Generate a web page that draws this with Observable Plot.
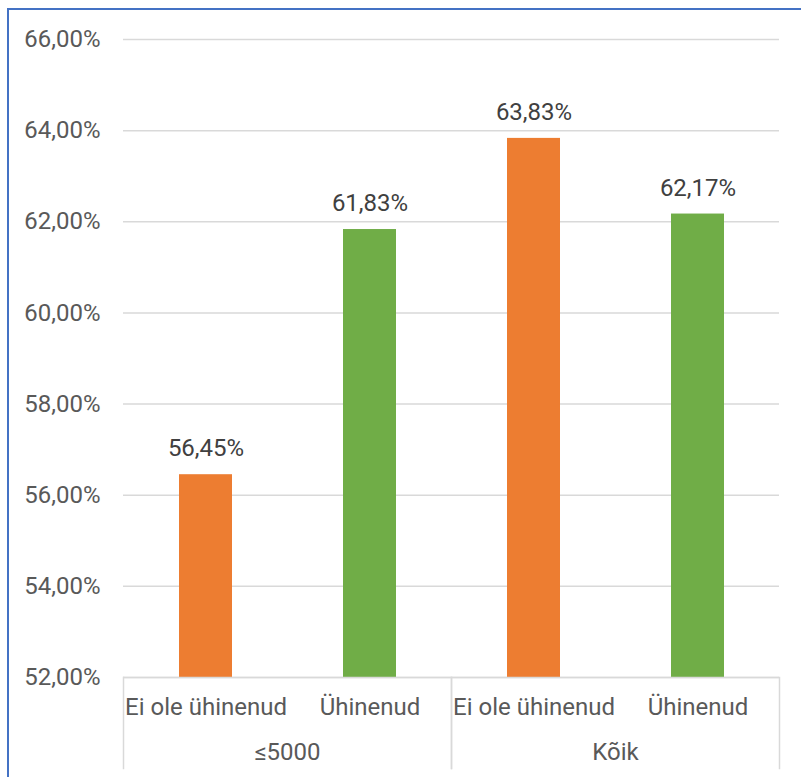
<!DOCTYPE html>
<html>
<head>
<meta charset="utf-8">
<script src="https://cdn.jsdelivr.net/npm/d3@7"></script>
<script src="https://cdn.jsdelivr.net/npm/@observablehq/plot@0.6"></script>
<style>
  html, body { margin: 0; padding: 0; background: #fff; overflow: hidden; }
  #wrap { position: relative; width: 801px; height: 777px; }
  #border { position: absolute; left: 7px; top: 8px; width: 900px; height: 900px;
            border-left: 2px solid #4472C4; border-top: 2px solid #4472C4; box-sizing: border-box; pointer-events: none; }
  #chart { position: absolute; left: 0; top: 0; }
</style>
</head>
<body>
<div id="wrap"><div id="chart"></div><div id="border"></div></div>
<script>
const groups = ["≤5000", "≤5000", "Kõik", "Kõik"];
const categories = ["Ei ole ühinenud", "Ühinenud", "Ei ole ühinenud", "Ühinenud"];
const values = [56.45, 61.83, 63.83, 62.17];
const barColors = ["#ED7D31", "#70AD47", "#ED7D31", "#70AD47"];
const yTicks = [52, 54, 56, 58, 60, 62, 64, 66];

const data = values.map((v, i) => ({group: groups[i], cat: categories[i], value: v, color: barColors[i]}));
const fmt = d => d.toFixed(2).replace(".", ",") + "%";
const FS = 24;

const plot = Plot.plot({
  width: 801,
  height: 777,
  marginLeft: 123,
  marginRight: 22,
  marginTop: 39,
  marginBottom: 100,
  style: {fontFamily: "Roboto, sans-serif", fontSize: FS + "px", color: "#595959", background: "#fff"},
  fx: {domain: ["≤5000", "Kõik"], paddingInner: 0, paddingOuter: 0, axis: null},
  x: {domain: ["Ei ole ühinenud", "Ühinenud"], paddingInner: 0.677, paddingOuter: 0.3385, axis: null},
  y: {domain: [52, 66], axis: null},
  marks: [
    Plot.gridY(yTicks, {stroke: "#d9d9d9", strokeOpacity: 1, strokeWidth: 1.5}),
    Plot.barY(data, {fx: "group", x: "cat", y1: 52, y2: "value", fill: "color"}),
    Plot.ruleY([52], {stroke: "#d9d9d9", strokeWidth: 1.5}),
    Plot.text(data, {fx: "group", x: "cat", y: "value", text: d => fmt(d.value), dy: -26,
      fill: "#404040", fontSize: FS}),
    Plot.axisY(yTicks, {tickSize: 0, tickPadding: 23, tickFormat: fmt, fontSize: FS, fill: "#595959", label: null}),
    Plot.axisX({tickSize: 0, tickPadding: 20, fontSize: FS, fill: "#595959", label: null}),
    Plot.axisFx({anchor: "bottom", tickSize: 0, tickPadding: 65, fontSize: FS, fill: "#595959", label: null}),
    Plot.frame({anchor: "left", stroke: "#d9d9d9", strokeWidth: 1.5, insetTop: 638, insetBottom: -91}),
    Plot.frame({anchor: "right", stroke: "#d9d9d9", strokeWidth: 1.5, insetTop: 638, insetBottom: -91})
  ]
});
document.getElementById("chart").appendChild(plot);
</script>
</body>
</html>
